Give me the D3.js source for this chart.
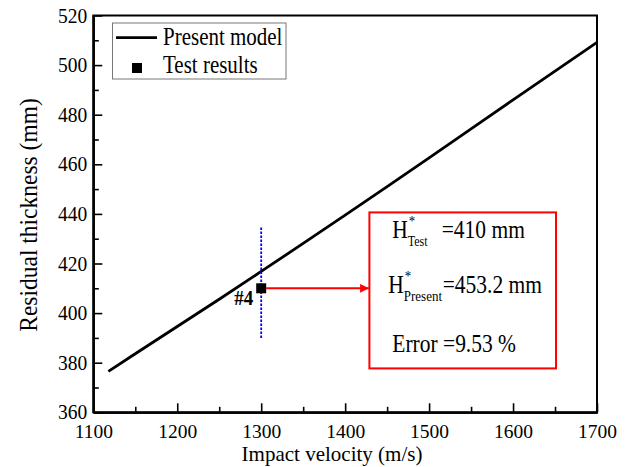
<!DOCTYPE html>
<html>
<head>
<meta charset="utf-8">
<script src="https://cdn.jsdelivr.net/npm/d3@7"></script>
<style>
  html, body { margin: 0; padding: 0; background: #fff; }
  svg { display: block; }
  svg text { font-family: "Liberation Serif", "Times New Roman", serif; fill: #000; }
</style>
</head>
<body>
<svg id="chart" width="629" height="467"></svg>
<script>
// Present model prediction: residual thickness vs impact velocity
const velocity  = [1118, 1150, 1200, 1250, 1300, 1350, 1400, 1450, 1500, 1550, 1600, 1650, 1700];
const thickness = [376.5, 383.6, 394.6, 405.6, 416.8, 428.1, 439.5, 451.0, 462.6, 474.3, 486.0, 497.6, 509.2];

// Test result (#4)
const testVelocity  = [1300];
const testThickness = [410];
const testLabel     = ["#4"];
// Vertical scatter band drawn through the test point
const bandRange = [390, 435];

// Axis ticks
const xTicks = [1100, 1200, 1300, 1400, 1500, 1600, 1700];
const xMinor = [1150, 1250, 1350, 1450, 1550, 1650];
const yTicks = [360, 380, 400, 420, 440, 460, 480, 500, 520];
const yMinor = [370, 390, 410, 430, 450, 470, 490, 510];

// Comparison summary
const hTest = 410, hPresent = 453.2, errorPct = 9.53;

const SERIF = "'Liberation Serif', 'Times New Roman', serif";
const STRETCH = 1.15; // tall, narrow type

const svg = d3.select("#chart");
const plotL = 93.3, plotR = 597, plotT = 15.5, plotB = 412.3;

const x = d3.scaleLinear().domain([1100, 1700]).range([plotL, plotR]);
const y = d3.scaleLinear().domain([360, 520]).range([plotB, plotT]);

// Text placed at a baseline point, stretched vertically about that baseline
function label(parent, tx, ty, str, size, opts = {}) {
  const t = parent.append("text")
    .attr("transform", `translate(${tx},${ty}) scale(1,${opts.stretch || STRETCH})`)
    .attr("font-size", size)
    .attr("font-family", SERIF)
    .attr("text-anchor", opts.anchor || "start")
    .text(str);
  if (opts.bold) t.attr("font-weight", "bold");
  return t;
}

// Frame
svg.append("rect")
  .attr("x", plotL).attr("y", plotT)
  .attr("width", plotR - plotL).attr("height", plotB - plotT)
  .attr("fill", "none").attr("stroke", "#000").attr("stroke-width", 2);

// Bottom axis (inward ticks)
const gx = svg.append("g").attr("transform", `translate(0,${plotB})`)
  .call(d3.axisBottom(x).tickValues(xTicks).tickSize(-9).tickSizeOuter(0).tickFormat(d3.format("d")));
const gxm = svg.append("g").attr("transform", `translate(0,${plotB})`)
  .call(d3.axisBottom(x).tickValues(xMinor).tickSize(-5.5).tickSizeOuter(0).tickFormat(""));
// Left axis (inward ticks)
const gy = svg.append("g").attr("transform", `translate(${plotL},0)`)
  .call(d3.axisLeft(y).tickValues(yTicks).tickSize(-9).tickSizeOuter(0).tickPadding(6).tickFormat(d3.format("d")));
const gym = svg.append("g").attr("transform", `translate(${plotL},0)`)
  .call(d3.axisLeft(y).tickValues(yMinor).tickSize(-5.5).tickSizeOuter(0).tickFormat(""));

[gx, gxm, gy, gym].forEach(g => {
  g.attr("font-family", SERIF).attr("font-size", 19.5);
  g.select(".domain").attr("stroke", "#000").attr("stroke-width", 2);
  g.selectAll(".tick line").attr("stroke", "#000").attr("stroke-width", 1.6);
  g.selectAll(".tick text").attr("font-family", SERIF).style("font-family", SERIF)
    .attr("font-size", 19.5).attr("fill", "#000");
});
gx.selectAll(".tick text").attr("y", 0).attr("dy", 0)
  .attr("transform", "translate(0,25.3)");
gy.selectAll(".tick text").attr("dy", 0)
  .attr("transform", "translate(-6,6.6) scale(1,1.05)").attr("x", 0);

// Axis titles
label(svg, 332, 461, "Impact velocity (m/s)", 21, { anchor: "middle", stretch: 1.0 });
svg.append("text")
  .attr("transform", `translate(37,215) rotate(-90) scale(1.0,1.1)`)
  .attr("text-anchor", "middle").attr("font-size", 23.5).attr("font-family", SERIF)
  .text("Residual thickness (mm)");

// Model curve
const line = d3.line().x((d, i) => x(velocity[i])).y(d => y(d));
svg.append("path")
  .datum(thickness)
  .attr("d", line)
  .attr("fill", "none").attr("stroke", "#000").attr("stroke-width", 2.8);

// Blue dotted band at the test velocity
svg.append("line")
  .attr("x1", x(testVelocity[0])).attr("x2", x(testVelocity[0]))
  .attr("y1", y(bandRange[0])).attr("y2", y(bandRange[1]))
  .attr("stroke", "#0000ff").attr("stroke-width", 1.8)
  .attr("stroke-dasharray", "2.5,1.5");

// Summary box geometry (in data coordinates)
const boxX0 = x(1428.9), boxX1 = x(1651.2), boxY0 = y(440.6), boxY1 = y(377.7);

// Red arrow from the test point to the summary box
svg.append("defs").append("marker")
  .attr("id", "arrow").attr("viewBox", "0 0 10 10")
  .attr("refX", 10).attr("refY", 5)
  .attr("markerWidth", 5).attr("markerHeight", 4.4)
  .attr("markerUnits", "strokeWidth")
  .attr("orient", "auto")
  .append("path").attr("d", "M0,0 L10,5 L0,10 Z").attr("fill", "#ff0000");
svg.append("line")
  .attr("x1", x(testVelocity[0]) + 5).attr("x2", boxX0 - 0.5)
  .attr("y1", y(testThickness[0])).attr("y2", y(testThickness[0]))
  .attr("stroke", "#ff0000").attr("stroke-width", 2)
  .attr("marker-end", "url(#arrow)");

// Test point marker
svg.selectAll(".test").data(testVelocity).join("rect")
  .attr("class", "test")
  .attr("x", d => x(d) - 5).attr("y", (d, i) => y(testThickness[i]) - 5)
  .attr("width", 10).attr("height", 10).attr("fill", "#000");
testVelocity.forEach((v, i) => {
  label(svg, x(v) - 8, y(testThickness[i]) + 16.5, testLabel[i], 19, { anchor: "end", bold: true });
});

// Summary box
svg.append("rect")
  .attr("x", boxX0).attr("y", boxY0)
  .attr("width", boxX1 - boxX0).attr("height", boxY1 - boxY0)
  .attr("fill", "#fff").attr("stroke", "#ff0000").attr("stroke-width", 2);

function hRow(xh, yb, sub, subSize, value, xv) {
  const g = svg.append("g");
  label(g, xh, yb, "H", 21.5);
  label(g, xh + 16.5, yb - 12.5, "*", 13);
  label(g, xh + 15.5, yb + 8, sub, subSize);
  label(g, xv, yb, value, 21.5);
}
hRow(392.3, 238.3, "Test", 12, `=${hTest} mm`, 441.7);
hRow(388.3, 293.3, "Present", 13, `=${hPresent} mm`, 442.7);
label(svg, 392.3, 351.7, `Error =${errorPct} %`, 21.5);

// Legend
const lg = svg.append("g");
lg.append("rect").attr("x", 112.5).attr("y", 23).attr("width", 173.5).attr("height", 56)
  .attr("fill", "#fff").attr("stroke", "#777").attr("stroke-width", 1);
lg.append("line").attr("x1", 116).attr("x2", 157).attr("y1", 37.7).attr("y2", 37.7)
  .attr("stroke", "#000").attr("stroke-width", 2.8);
label(lg, 163, 45, "Present model", 21);
lg.append("rect").attr("x", 132).attr("y", 63).attr("width", 10).attr("height", 10).attr("fill", "#000");
label(lg, 163, 73, "Test results", 21);
</script>
</body>
</html>
